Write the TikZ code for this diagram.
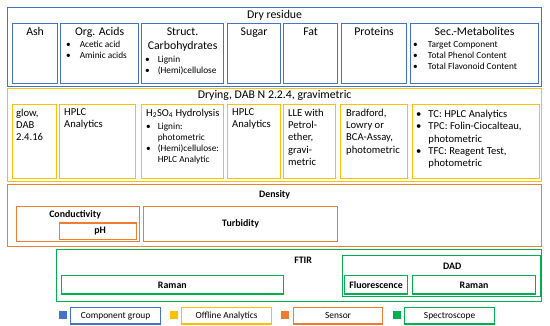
\documentclass[tikz,border=0pt]{standalone}
\usepackage{fontspec}
\setmainfont{Carlito}
\usetikzlibrary{positioning}
\definecolor{cgroup}{HTML}{4472C4}
\definecolor{coffline}{HTML}{FFC000}
\definecolor{csensor}{HTML}{ED7D31}
\definecolor{cspectro}{HTML}{00B050}
\newcommand{\bul}{\textbullet}

\begin{document}
\begin{tikzpicture}[x=1pt,y=-1pt,
    box/.style={draw, line width=1.2pt, inner sep=0pt, anchor=north west},
    grp/.style={box, draw=cgroup},
    ofl/.style={box, draw=coffline},
    sens/.style={box, draw=csensor},
    spec/.style={box, draw=cspectro},
    ttl/.style={font=\fontsize{11.8}{14}\selectfont, inner sep=0pt, align=center},
    lst/.style={font=\fontsize{9.3}{10.9}\selectfont, inner sep=0pt, anchor=north west},
    mid/.style={font=\fontsize{10.6}{12.4}\selectfont, inner sep=0pt, align=left, anchor=north west},
    bld/.style={font=\fontsize{9.9}{12}\selectfont\bfseries, inner sep=0pt},
    legtxt/.style={font=\fontsize{9.4}{11}\selectfont, inner sep=0pt},
    sq/.style={inner sep=0pt, minimum size=8pt}]
\useasboundingbox (0,0) rectangle (550,326);

%% component groups
\node[grp, minimum width=534, minimum height=79] (dry) at (7,7) {};
\node[ttl, below=3.5pt of dry.north] (drytxt) {Dry residue};
\node[grp, minimum width=45, minimum height=60] (ash) at (12,23) {};
\node[grp, minimum width=78, minimum height=60] (orga) at (60,23) {};
\node[grp, minimum width=82, minimum height=60] (struct) at (141,23) {};
\node[grp, minimum width=53, minimum height=60] (sugar) at (227,23) {};
\node[grp, minimum width=54, minimum height=60] (fat) at (283,23) {};
\node[grp, minimum width=65, minimum height=60] (prot) at (341,23) {};
\node[grp, minimum width=128, minimum height=60] (secm) at (410,23) {};
\node[ttl, below=4.5pt of ash.north] (ashtxt) {Ash};
\node[ttl, below=4.5pt of orga.north] (orgatxt) {Org. Acids};
\node[ttl, below=4.5pt of struct.north] (structtxt) {Struct.\\Carbohydrates};
\node[ttl, below=4.5pt of sugar.north] (sugartxt) {Sugar};
\node[ttl, below=4.5pt of fat.north] (fattxt) {Fat};
\node[ttl, below=4.5pt of prot.north] (prottxt) {Proteins};
\node[ttl, below=4.5pt of secm.north] (secmtxt) {Sec.-Metabolites};
\node[lst] (orgalst) at ([shift={(6,16.5)}]orga.north west)
  {\begin{tabular}{@{}l@{\hspace{9pt}}l@{}}\bul & Acetic acid\\ \bul & Aminic acids\end{tabular}};
\node[lst] (structlst) at ([shift={(4,31.5)}]struct.north west)
  {\begin{tabular}{@{}l@{\hspace{8pt}}l@{}}\bul & Lignin\\ \bul & (Hemi)cellulose\end{tabular}};
\node[lst] (secmlst) at ([shift={(3,16.5)}]secm.north west)
  {\begin{tabular}{@{}l@{\hspace{10pt}}l@{}}\bul & Target Component\\ \bul & Total Phenol Content\\ \bul & Total Flavonoid Content\end{tabular}};

%% offline analytics
\node[ofl, minimum width=534, minimum height=93] (drying) at (7,88) {};
\node[ttl, below=2.5pt of drying.north] (dryingtxt) {Drying, DAB N 2.2.4, gravimetric};
\node[ofl, minimum width=44, minimum height=74] (glow) at (12,104) {};
\node[ofl, minimum width=76, minimum height=74] (hplca) at (59,104) {};
\node[ofl, minimum width=82, minimum height=74] (hydro) at (141,104) {};
\node[ofl, minimum width=53, minimum height=74] (hplcb) at (227,104) {};
\node[ofl, minimum width=52, minimum height=74] (lle) at (283,104) {};
\node[ofl, minimum width=67, minimum height=74] (brad) at (340,104) {};
\node[ofl, minimum width=127, minimum height=74] (tc) at (412,104) {};
\node[mid] (glowtxt) at ([shift={(4,4.5)}]glow.north west) {glow,\\DAB\\2.4.16};
\node[mid] (hplcatxt) at ([shift={(5,4.5)}]hplca.north west) {HPLC\\Analytics};
\node[mid] (hydrotxt) at ([shift={(5,4.5)}]hydro.north west) {H\textsubscript{2}SO\textsubscript{4} Hydrolysis};
\node[lst] (hydrolst) at ([shift={(5,18)}]hydro.north west)
  {\begin{tabular}{@{}l@{\hspace{7pt}}l@{}}\bul & Lignin:\\ & photometric\\ \bul & (Hemi)cellulose:\\ & HPLC Analytic\end{tabular}};
\node[mid] (hplcbtxt) at ([shift={(5,4.5)}]hplcb.north west) {HPLC\\Analytics};
\node[mid] (lletxt) at ([shift={(5,4.5)}]lle.north west) {LLE with\\Petrol-\\ether,\\gravi-\\metric};
\node[mid] (bradtxt) at ([shift={(6,4.5)}]brad.north west) {Bradford,\\Lowry or\\BCA-Assay,\\photometric};
\node[mid] (tclst) at ([shift={(4,4.5)}]tc.north west)
  {\begin{tabular}{@{}l@{\hspace{7pt}}l@{}}\bul & TC: HPLC Analytics\\ \bul & TPC: Folin-Ciocalteau,\\ & photometric\\ \bul & TFC: Reagent Test,\\ & photometric\end{tabular}};

%% sensors
\node[sens, minimum width=534, minimum height=62] (dens) at (7,184) {};
\node[bld, below=6pt of dens.north] (denstxt) {Density};
\node[sens, minimum width=123, minimum height=35] (cond) at (16,206) {};
\node[sens, minimum width=77, minimum height=16.5] (ph) at (59,222.5) {};
\node[sens, minimum width=194, minimum height=35] (turb) at (143,206) {};
\node[bld, below=4.5pt of cond.north, xshift=-3pt] (condtxt) {Conductivity};
\node[bld] (phtxt) at ([xshift=2pt]ph.center) {pH};
\node[bld] (turbtxt) at (turb.center) {Turbidity};

%% spectroscopes
\node[spec, minimum width=485, minimum height=52] (ftir) at (56,249) {};
\node[bld, below=7.5pt of ftir.north, xshift=4pt] (ftirtxt) {FTIR};
\node[spec, minimum width=198.5, minimum height=41] (dad) at (341.5,255) {};
\node[bld, below=7.5pt of dad.north, xshift=11pt] (dadtxt) {DAD};
\node[spec, minimum width=222.5, minimum height=18.5] (ramana) at (60.5,275) {};
\node[spec, minimum width=63, minimum height=18.5] (fluo) at (344,275) {};
\node[spec, minimum width=123, minimum height=18.5] (ramanb) at (412,275) {};
\node[bld] (ramanatxt) at (ramana.center) {Raman};
\node[bld] (fluotxt) at (fluo.center) {Fluorescence};
\node[bld] (ramanbtxt) at (ramanb.center) {Raman};

%% legend
\node[sq, fill=cgroup] (sqgrp) at (62.5,315.5) {};
\node[grp, minimum width=90, minimum height=16.5] (leggrp) at (70,307) {};
\node[legtxt] at (leggrp.center) {Component group};
\node[sq, fill=coffline] (sqofl) at (174,315.5) {};
\node[ofl, minimum width=90, minimum height=16.5] (legofl) at (181,307) {};
\node[legtxt] at (legofl.center) {Offline Analytics};
\node[sq, fill=csensor] (sqsens) at (285,315.5) {};
\node[sens, minimum width=89, minimum height=16.5] (legsens) at (293,307) {};
\node[legtxt] at (legsens.center) {Sensor};
\node[sq, fill=cspectro] (sqspec) at (396.5,315.5) {};
\node[spec, minimum width=90, minimum height=16.5] (legspec) at (404,307) {};
\node[legtxt] at (legspec.center) {Spectroscope};
\end{tikzpicture}
\end{document}
